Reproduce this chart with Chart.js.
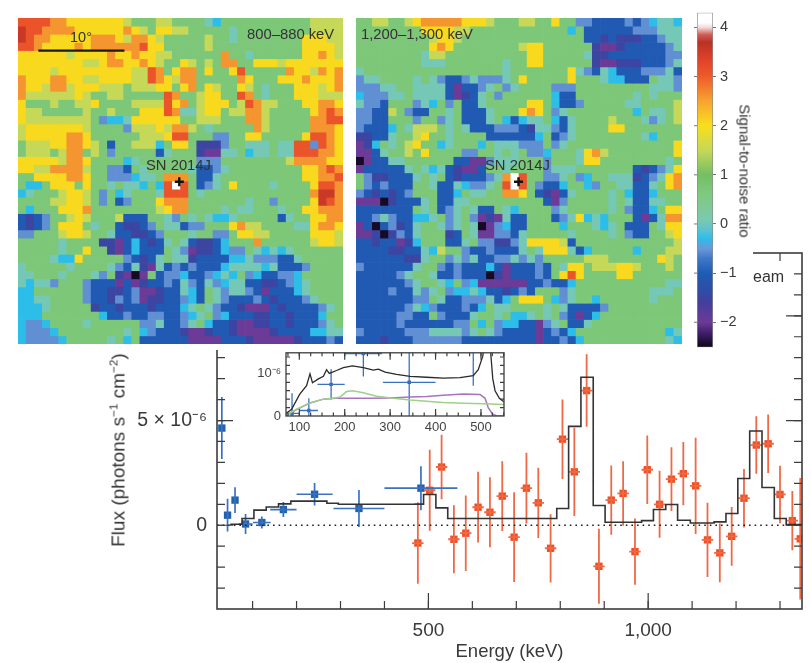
<!DOCTYPE html>
<html>
<head>
<meta charset="utf-8">
<title>SN 2014J</title>
<script src="https://cdn.jsdelivr.net/npm/chart.js@4"></script>
<style>
  html, body { margin: 0; padding: 0; background: #fff; }
  #page { position: relative; width: 811px; height: 663px; overflow: hidden; font-family: "Liberation Sans", Arial, sans-serif; color: #333; }
  canvas { position: absolute; }
  #mapLeft, #mapRight { filter: blur(0.5px); }
  #mask { position: absolute; left: 0; top: 0; width: 753px; height: 350px; background: #fff; z-index: 3; }
  .lbl { position: absolute; z-index: 6; white-space: nowrap; line-height: 1; }
  sup { font-size: 0.62em; line-height: 0; }
</style>
</head>
<body>
<div id="page">
  <canvas id="spectrum" width="811" height="663" style="left:0;top:0;z-index:1"></canvas>
  <canvas id="inset" width="270" height="105" style="left:250px;top:340px;z-index:2"></canvas>
  <div id="mask"></div>
  <canvas id="mapLeft" width="325" height="326" style="left:18px;top:18px;z-index:4"></canvas>
  <canvas id="mapRight" width="326" height="326" style="left:356px;top:18px;z-index:4"></canvas>
  <canvas id="colorbar" width="60" height="360" style="left:690px;top:0;z-index:4"></canvas>

  <div class="lbl" style="left:70px;top:30px;font-size:14.5px">10°</div>
  <div class="lbl" style="left:247px;top:27px;font-size:14.8px">800–880 keV</div>
  <div class="lbl" style="left:361px;top:27px;font-size:14.8px">1,200–1,300 keV</div>
  <div class="lbl" style="left:146px;top:158px;font-size:14.8px">SN 2014J</div>
  <div class="lbl" style="left:485px;top:158px;font-size:14.8px">SN 2014J</div>
  <div class="lbl" style="left:753px;top:269px;font-size:16px;z-index:2">eam</div>
  <div class="lbl" style="left:745px;top:171px;font-size:15px;transform:translate(-50%,-50%) rotate(90deg)">Signal-to-noise ratio</div>
  <div class="lbl" style="left:118px;top:450px;font-size:19px;transform:translate(-50%,-50%) rotate(-90deg)">Flux (photons s<sup>−1</sup> cm<sup>−2</sup>)</div>
</div>

<script>
// ---- data ----

// signal-to-noise maps, one letter per pixel, top row first
var mapLevels = { k: -2.45, p: -2, d: -1.5, b: -1.05, m: -0.55, c: -0.3, t: 0.05, g: 0.7, h: 1.5, y: 2.05, o: 2.6, r: 3.1, R: 3.55, W: 4.25 };

var map800Rows = [
  "rrrrooyyyy yyyhggghhg gggtcggggg gggggghhhh",
  "Rrrooooyyy yyyoyhgyyh hgggggtggg gggggghhhh",
  "Rrooyyyyyo ooyhooyhgg ggghggtggg gggggyyyhh",
  "rroyyyyoyo oooooryygg ggghgggggg gggggyyyyh",
  "yyyyyyhyyy yoyyoyyhhg gggggoggtg gggggyyoyh",
  "yyyyyyyyhh yooyyoyhgg yhghgooggy yyhyyyyyyy",
  "yyyyhyyyyy yyyyhhrogy oogyggyrgg gggoyyhoyo",
  "oyyyooyyhh yyyyhhroyh oogggggoyg ggyyyoyyyo",
  "oyyhoohyyy hhhghhhyyg yogyhggyhg tgggyyyhyo",
  "ohhhhhhyhg ghhgggggro gghyyggrog tgggyyyhhh",
  "yggghgghhy gggghhhhry oghyyyghro hhgggyyooy",
  "yhhggggghg ghgggyyyro tthyyghhoo hgggggyoro",
  "yhhhhhhhhg mcctyyyyyy gghhhgggoo hgggggoorr",
  "hyyyyyyyhg gggmhhhyho ohgtgggggo hgggggoooy",
  "hyyyyyooyg ggggghhhyr rgggmmggyy gggggyrroy",
  "ghhhyyooyh gbgghhhcgy ygdddmggtt tgttrrmroy",
  "ghhhghoogh gmgggggbtg ggdppttgct tgttrrrooy",
  "yyyyyhooyg gggctggggg ggmmmggggg ggghooooyy",
  "yyhhoooohg gmmbgtgggg gtbbmtgggg gggggyyoro",
  "ggyyyyooyg gmmmcttgoo ogbbtggggg gggggyyoor",
  "gccgyyygyg gtgttcgcrW rgbmtgyggg gtggggyrro",
  "ctggghyyhg mgctgggtrr rgtggggggg ggggggoRRo",
  "gggghhyyhg mgbmgggyoo ogggggggtg gmggggyRro",
  "gcgggyyyog ggggggghyo oggggtgttg ggtggyyooo",
  "bdbmgghyhg gghbbbggtm gtgtcctggg ggbtggyyoo",
  "bdbmgyyygt ggbddbmgtt bmmgggyohh ggggttyooy",
  "mmggghyyhg gtbbddbmgg gtggmmgyyh hgggggyyyh",
  "gggggtgggg ddpbcbdbtg tbddbcgggo gggggghyyh",
  "gggggtggyg gdpbcbbbgt mpddbcmmgt ctctgggggg",
  "ggggtccygg gggmbdbtgt tdbbbbcctm mmbbtggggg",
  "tgggggtggg gtmbtdptbm bmbbbctttt ctbbbmgggg",
  "ttgggtgggt mgdpkpgbmm cbbmctcgmc bbmmcggggg",
  "tcttmgggmb bbpbpdbbmb tmbtmcttbb ddbmctgggg",
  "ccggggggmb bddbmppdbb tcbgtmttmb pbbbctgggg",
  "ccttggggmb bdmbmpddbb mcbgtmbbbm bdbbbmtggg",
  "ccctgggggd bbdbbbdbbb ctgtmbbdpp pbdbbbbmtg",
  "cccggggggg cbbmbbmmbb mctgmcbbbd dbbdbbbcgg",
  "cmmcggggtg gggggmmtbb mtgcbbdppd dbbdbbbmtg",
  "cmmmcggggg gggtgcmbbb dppdbbdppp pdbbbbcctt",
  "cmmmmcgggg gtgcgbbbbb bppppbbbdp ppppdbbbmb"
];

var map1200Rows = [
  "gghhgghyoo oooyyyhggg hhggyggmmb bbbmbmcttc",
  "ggggggggyy yyhhgggggg ggggggcgbb bbbbmmmttt",
  "gggggggggh yyhggggggg ggggggggbb dbdddbbmtt",
  "gggggggggy oygggggggg hyyggggggd ppdbbbbbmt",
  "ggggggggth hggggggggg gyygggggtd dbbbbbbbmm",
  "ggggggggtt tgggggggtg gyyggggggd ppdddbbbmt",
  "tggggggggg ggggggggtg ggggggytmb tcbbbmmmtb",
  "mttggggtgt mbbmtmmmtg ygggggyggg tccbbbgttm",
  "mmmttggttt tbpbbmtgmt ggggmmmggg ggggggtttm",
  "cmmmttgttt tbpdbtgmgg ggggcbbggg ggggtgtggg",
  "tmmbgggmtc gmgbbtgggg gyygcbbmgg gggttggggh",
  "mmbbhgmbbg gtgbbbtggg yoygmtgggg ggggcgttgh",
  "mmbbgggmgg mtgbbbtgcb cttgcbtggg ghgggtmtgh",
  "mbbbcgthhh gtgtbbbmmm bdttmbtggg gyyggggggg",
  "ddbbtgghyg gtggggbbbb bbcgbmtggg gggggtcggg",
  "pdcgtghygg ctgggcgttt mmmgmtgggg gggggggggy",
  "ppbtgghgyg gggmmggtgt gmmcgggtyo hggggggggy",
  "kpbbttgggg ggbbppmttt gggmgggtyy ggggggggtg",
  "pbbbbbtgtc tbdppbggtg gggmtttggg ggggbdbmty",
  "gmddbbbtgt gbdbbbmtoW rggmmtgmcg gtttdbmtyo",
  "gmbmbbbggt bbtcmmtgrW rgmbbcggcm ggttbbtgyo",
  "mbdbdbmggg bbcgttggoo ygbdpbtggg gtgcbbcggg",
  "pppkdbbbtg bbttgggggg gggbpmgggg gtgtbbttgg",
  "bbbbbbbgtg bmtgtbbgtc ggggmtgggg gtgmbbcgyy",
  "bbmtmbbcct gmtgmpdptb bgggbmtyct cgggbpbtoo",
  "pbkbmdbtgg tmtgtkpmcb bggggcgggt ctgbbbgtyy",
  "ppdkdmbtgg gdbgtppmmb tgggggtggg gtgmbbgghy",
  "bbdbbpdcgg gbbtgmmddm tyyyyhbggg gggggggggh",
  "bbbbddbbtc hggmbbmbbb tgtyyytbcg ggggcggghh",
  "bbbbbbddtg gmtmtbbmmt mtmggggghh hggggggyhg",
  "mbbbbbbtgg mbmbbbcbpb bbmbgtyygh hhyyhggghg",
  "bbbbbmtggt bbmbbbkdpb bbmbgyrygg ggyygggggg",
  "bbbbbbmtgg tcgmcppppp pbbmbbcggg ggggggggtt",
  "bbbbmbbtmt gmcctcbbdb mbgggmtggg ggggggtttg",
  "bbbbbbbmmg tbbmmmtbcg yyygcmtggc ggggggtggg",
  "bbbbbbmtcm bbbmbcgttg gggtgtbbbb mggggggggg",
  "bbbbbmmbbg mbbbtggtgc ctgtgmbpbc gggggggggg",
  "bbbbbmbbbb bbmmgcgmcc bbpmtgbbtg gggggggggg",
  "mbbbbbmmmt tttmtgtmbb bbpbmbcggg ggggggggct",
  "bbbdbbbmmm mmmbbbbbbb bbpbbmbcgg ggggggggtc"
];

// source marker, in map pixels
var sourceLeft = [19.35, 20.1];
var sourceRight = [19.44, 20.1];

// colour bar
var barRange = [-2.51, 4.3];
var barTicks = [4, 3, 2, 1, 0, -1, -2];
var barStops = [
  [-2.51, "#0b0612"], [-2.25, "#3a1c63"], [-2, "#6c3a97"], [-1.6, "#443f9d"], [-1.3, "#2b50a8"], [-1, "#1f5cb5"],
  [-0.7, "#4078c8"], [-0.5, "#6b98d6"], [-0.3, "#2cbde9"], [-0.12, "#5cc3d0"], [0.1, "#7cc9ae"], [0.6, "#80c980"],
  [1, "#74bf63"], [1.5, "#c5d858"], [2, "#f8df1c"], [2.5, "#f7a331"], [3, "#ee5c2a"], [3.3, "#e4442a"],
  [3.7, "#b93224"], [3.85, "#cf5b55"], [4, "#f0dada"], [4.1, "#ffffff"], [4.3, "#ffffff"]
];

// SPI points, flux in 1e-6 photons/s/cm2
var blueEnergy = [30, 43, 60, 84, 121, 170, 241, 342, 483];
var blueHalfWidth = [0, 0, 0, 16, 20, 30, 41, 58, 83];
var blueFlux = [4.64, 0.48, 1.2, 0.06, 0.13, 0.75, 1.48, 0.8, 1.77];
var blueError = [1.48, 0.78, 0.61, 0.48, 0.29, 0.36, 0.54, 0.88, 1.05];

var redEnergy = [476, 503, 530, 558, 585, 613, 640, 668, 695, 723, 750, 778, 805, 832, 860, 888, 916, 943, 970, 998, 1026, 1053, 1080, 1108, 1135, 1163, 1190, 1218, 1246, 1273, 1300, 1328, 1346];
var redFlux = [-0.85, 1.67, 2.78, -0.67, -0.38, 0.86, 0.62, 1.39, -0.57, 1.77, 1.07, -1.1, 4.11, 2.55, 6.43, -1.96, 1.2, 1.52, -1.26, 2.65, 1, 2.2, 2.46, 1.88, -0.7, -1.32, -0.53, 1.29, 3.83, 3.89, 1.47, 0.22, -0.65];
var redError = [1.95, 1.93, 1.54, 1.62, 1.8, 1.69, 1.67, 1.67, 2.14, 1.69, 1.68, 1.63, 1.9, 2.11, 1.73, 1.79, 1.65, 1.54, 1.58, 1.63, 1.6, 1.52, 1.51, 2.3, 1.77, 1.4, 1.4, 1.4, 1.37, 1.4, 1.37, 1.42, 2.9];
var redHalfWidth = 13;

// model histogram, each level holds until the next edge
var modelEdges = [49, 76, 103, 131, 159, 187, 269, 295, 470, 489, 517, 544, 792, 819, 847, 875, 902, 985, 1012, 1040, 1067, 1096, 1150, 1177, 1204, 1231, 1259, 1287, 1314, 1350];
var modelFlux = [0.05, 0.32, 0.72, 0.87, 1.02, 1.15, 1.05, 1, 1.01, 1.47, 0.83, 0.32, 0.8, 4.72, 7.07, 0.94, 0.14, 0.22, 0.75, 0.99, 0.24, 0.11, 0.16, 0.56, 2.23, 4.5, 1.8, 0.32, 0.03, 0.03];

// inset curves
var insetTotalE = [70.6, 83, 101, 116, 123.5, 129, 142, 153, 160, 166, 182, 197, 217, 241, 263, 274, 289, 314, 344, 380, 417, 454, 483, 494, 504, 511, 518.5, 522, 526, 531, 540.5, 551];
var insetTotalF = [0.06, 0.16, 0.52, 0.72, 1, 0.79, 0.88, 0.94, 1.1, 1.01, 1.08, 1.15, 1.19, 1.15, 1.09, 1.11, 1.04, 0.99, 0.94, 0.92, 0.9, 0.91, 0.96, 1.1, 1.42, 2, 2, 1.42, 0.88, 0.6, 0.42, 0.33];
var insetGreenE = [70.6, 94, 123.5, 153, 178.6, 189.6, 204, 217.5, 241, 270, 307, 344, 380, 417, 461, 505, 551];
var insetGreenF = [0.02, 0.165, 0.31, 0.4, 0.43, 0.45, 0.58, 0.6, 0.55, 0.47, 0.42, 0.38, 0.35, 0.32, 0.3, 0.29, 0.27];
var insetPurpleE = [70.6, 94, 123.5, 153, 178.6, 211.6, 255.6, 300, 344, 380.5, 417, 461, 498, 509, 516, 526, 535, 551];
var insetPurpleF = [0.01, 0.15, 0.31, 0.4, 0.42, 0.42, 0.42, 0.43, 0.45, 0.46, 0.49, 0.52, 0.51, 0.42, 0.2, 0.04, 0, 0];

// ---- helpers ----

Chart.defaults.font.family = '"Liberation Sans", Arial, sans-serif';
Chart.defaults.color = "#333";
Chart.defaults.animation = false;
Chart.defaults.responsive = false;
Chart.defaults.layout.autoPadding = false;
Chart.defaults.plugins.legend.display = false;
Chart.defaults.plugins.tooltip.enabled = false;

var axisColor = "#3d3d3d";

function hexRgb(h) {
  return [parseInt(h.substr(1, 2), 16), parseInt(h.substr(3, 2), 16), parseInt(h.substr(5, 2), 16)];
}

function colorFor(v) {
  for (var i = 1; i < barStops.length; i++) {
    if (v <= barStops[i][0]) {
      var a = barStops[i - 1], b = barStops[i];
      var t = Math.max(0, (v - a[0]) / (b[0] - a[0]));
      var ca = hexRgb(a[1]), cb = hexRgb(b[1]);
      return "rgb(" + ca.map(function (c, k) { return Math.round(c + (cb[k] - c) * t); }).join(",") + ")";
    }
  }
  return "#fff";
}

function pairs(xs, ys) {
  return xs.map(function (x, i) { return { x: x, y: ys[i] }; });
}

// error bars as one broken line
function errorSegments(xs, ys, xHalf, yErr) {
  var out = [];
  xs.forEach(function (x, i) {
    var h = Array.isArray(xHalf) ? xHalf[i] : xHalf;
    out.push({ x: x, y: ys[i] - yErr[i] }, { x: x, y: ys[i] + yErr[i] }, { x: x, y: NaN });
    if (h > 0) out.push({ x: x - h, y: ys[i] }, { x: x + h, y: ys[i] }, { x: x, y: NaN });
  });
  return out;
}

function steps(from, to, by) {
  var out = [];
  for (var v = from; v <= to + 1e-9; v += by) out.push(Math.round(v * 1000) / 1000);
  return out;
}

// box and inward tick marks, taken from the chart's scales
var frameTicks = {
  id: "frameTicks",
  afterDraw: function (chart, args, opts) {
    var c = chart.ctx, a = chart.chartArea;
    c.save();
    c.strokeStyle = axisColor;
    if (opts.box) {
      c.lineWidth = opts.box;
      c.strokeRect(a.left, a.top, a.right - a.left, a.bottom - a.top);
    }
    (opts.marks || []).forEach(function (m) {
      c.lineWidth = m.width || 1.2;
      c.beginPath();
      m.values.forEach(function (v) {
        if (m.axis === "x") {
          var px = chart.scales.x.getPixelForValue(v);
          c.moveTo(px, a.bottom); c.lineTo(px, a.bottom - m.len);
          c.moveTo(px, a.top); c.lineTo(px, a.top + m.len);
        } else {
          var py = chart.scales.y.getPixelForValue(v);
          c.moveTo(a.left, py); c.lineTo(a.left + m.len, py);
          c.moveTo(a.right, py); c.lineTo(a.right - m.len, py);
        }
      });
      c.stroke();
    });
    c.restore();
  }
};

// 10 degree scale bar, sits on the left map
var scaleBar = {
  id: "scaleBar",
  afterDraw: function (chart) {
    var c = chart.ctx, xs = chart.scales.x, ys = chart.scales.y;
    c.save();
    c.strokeStyle = "#1a1a1a";
    c.lineWidth = 2.2;
    c.beginPath();
    c.moveTo(xs.getPixelForValue(2), ys.getPixelForValue(4));
    c.lineTo(xs.getPixelForValue(12.6), ys.getPixelForValue(4));
    c.stroke();
    c.restore();
  }
};

// ---- maps ----

function drawMap(id, rows, source, extra) {
  var cols = [];
  for (var i = 0; i < 40; i++) cols.push(i);
  var datasets = rows.map(function (row) {
    var cells = row.replace(/ /g, "");
    return {
      data: cols.map(function () { return 1; }),
      backgroundColor: cols.map(function (i) { return colorFor(mapLevels[cells.charAt(i) || "g"]); }),
      barPercentage: 1,
      categoryPercentage: 1,
      borderWidth: 0,
      order: 2
    };
  });
  datasets.push({
    type: "line",
    parsing: false,
    data: [{ x: source[0], y: source[1] }],
    showLine: false,
    pointStyle: "cross",
    pointRadius: 4.5,
    pointBorderWidth: 2.4,
    pointBorderColor: "#111",
    order: 1
  });
  return new Chart(document.getElementById(id), {
    type: "bar",
    data: { labels: cols, datasets: datasets },
    options: {
      layout: { padding: 0 },
      scales: {
        x: { display: false, stacked: true },
        y: { display: false, stacked: true, reverse: true, min: 0, max: 40 }
      }
    },
    plugins: extra
  });
}

drawMap("mapLeft", map800Rows, sourceLeft, [scaleBar]);
drawMap("mapRight", map1200Rows, sourceRight, []);

// ---- colour bar ----

new Chart(document.getElementById("colorbar"), {
  type: "bar",
  data: {
    labels: ["S/N"],
    datasets: [{
      data: [barRange],
      barPercentage: 1,
      categoryPercentage: 1,
      borderWidth: 1,
      borderColor: "#8c8c8c",
      borderSkipped: false,
      backgroundColor: function (ctx) {
        var y = ctx.chart.scales.y;
        if (!y || !y.height) return "#ccc";
        var p0 = y.getPixelForValue(barRange[1]), p1 = y.getPixelForValue(barRange[0]);
        var g = ctx.chart.ctx.createLinearGradient(0, p0, 0, p1);
        barStops.forEach(function (s) {
          g.addColorStop((barRange[1] - s[0]) / (barRange[1] - barRange[0]), s[1]);
        });
        return g;
      }
    }]
  },
  options: {
    layout: { padding: { left: 7, top: 4, bottom: 10, right: 0 } },
    scales: {
      x: { display: false },
      y: {
        position: "right",
        min: barRange[0],
        max: barRange[1],
        afterFit: function (s) { s.width = 37; },
        afterBuildTicks: function (s) { s.ticks = barTicks.map(function (v) { return { value: v }; }); },
        border: { display: false },
        grid: { drawOnChartArea: false, tickLength: 3, tickColor: "#777" },
        ticks: {
          padding: 4,
          autoSkip: false,
          color: "#3a3a3a",
          font: { size: 14.5 },
          callback: function (v) { return v < 0 ? "−" + Math.abs(v) : String(v); }
        }
      }
    }
  },
  plugins: [{
    id: "leftTicks",
    afterDraw: function (chart) {
      var c = chart.ctx, a = chart.chartArea;
      c.save();
      c.strokeStyle = "#777";
      c.beginPath();
      barTicks.forEach(function (v) {
        var py = chart.scales.y.getPixelForValue(v);
        c.moveTo(a.left, py); c.lineTo(a.left - 3, py);
      });
      c.stroke();
      c.restore();
    }
  }]
});

// ---- main spectrum ----

new Chart(document.getElementById("spectrum"), {
  type: "line",
  data: {
    datasets: [
      { data: pairs([19, 1350], [0, 0]), borderColor: "#222", borderWidth: 1.6, borderDash: [1.6, 4], pointRadius: 0 },
      { data: pairs(modelEdges, modelFlux), stepped: "before", borderColor: "#333", borderWidth: 1.6, pointRadius: 0 },
      { data: errorSegments(blueEnergy, blueFlux, blueHalfWidth, blueError), borderColor: "#3a72bf", borderWidth: 1.7, pointRadius: 0 },
      { data: errorSegments(redEnergy, redFlux, redHalfWidth, redError), borderColor: "#ee6a47", borderWidth: 1.8, pointRadius: 0 },
      { data: pairs(blueEnergy, blueFlux), showLine: false, pointStyle: "rect", pointRadius: 5.2, pointBackgroundColor: "#2260ae", pointBorderWidth: 0 },
      { data: pairs(redEnergy, redFlux), showLine: false, pointStyle: "rect", pointRadius: 5.2, pointBackgroundColor: "#f04e23", pointBorderWidth: 0 }
    ]
  },
  options: {
    layout: { padding: { top: 253, right: 9, left: 0, bottom: 0 } },
    scales: {
      x: {
        type: "linear",
        min: 19,
        max: 1350,
        afterFit: function (s) { s.height = 54; },
        afterBuildTicks: function (s) { s.ticks = [{ value: 500 }, { value: 1000 }]; },
        grid: { display: false, drawTicks: false },
        border: { display: false },
        ticks: {
          autoSkip: false,
          maxRotation: 0,
          padding: 10,
          color: "#3a3a3a",
          font: { size: 19 },
          callback: function (v) { return v === 1000 ? "1,000" : String(v); }
        },
        title: { display: true, text: "Energy (keV)", color: "#3a3a3a", font: { size: 18.5 }, padding: { top: 2, bottom: 0 } }
      },
      y: {
        min: -4,
        max: 13,
        afterFit: function (s) { s.width = 217; },
        afterBuildTicks: function (s) { s.ticks = [{ value: 0 }, { value: 5 }]; },
        grid: { display: false, drawTicks: false },
        border: { display: false },
        ticks: {
          autoSkip: false,
          padding: 10,
          color: "#3a3a3a",
          font: { size: 19.5 },
          callback: function (v) { return v === 5 ? "5 × 10⁻⁶" : "0"; }
        }
      }
    },
    plugins: {
      frameTicks: {
        box: 1.6,
        marks: [
          { axis: "x", values: steps(100, 1300, 100), len: 8 },
          { axis: "x", values: [500, 1000], len: 16 },
          { axis: "y", values: steps(-3, 12, 1), len: 8 },
          { axis: "y", values: [0, 5, 10], len: 16 }
        ]
      }
    }
  },
  plugins: [frameTicks]
});

// ---- inset ----

new Chart(document.getElementById("inset"), {
  type: "line",
  data: {
    datasets: [
      { data: pairs(insetGreenE, insetGreenF), borderColor: "#9fd08a", borderWidth: 1.5, pointRadius: 0 },
      { data: pairs(insetPurpleE, insetPurpleF), borderColor: "#a873c0", borderWidth: 1.5, pointRadius: 0 },
      { data: pairs(insetTotalE, insetTotalF), borderColor: "#2a2a2a", borderWidth: 1.3, pointRadius: 0 },
      { data: errorSegments(blueEnergy, blueFlux, blueHalfWidth, blueError), borderColor: "#3a72bf", borderWidth: 1.3, pointRadius: 0 },
      { data: pairs(blueEnergy, blueFlux), showLine: false, pointStyle: "rect", pointRadius: 2.4, pointBackgroundColor: "#2260ae", pointBorderWidth: 0 }
    ]
  },
  options: {
    layout: { padding: { top: 6.5, right: 16, left: 0, bottom: 0 } },
    scales: {
      x: {
        type: "linear",
        min: 70.7,
        max: 550.7,
        afterFit: function (s) { s.height = 29; },
        afterBuildTicks: function (s) { s.ticks = steps(100, 500, 100).map(function (v) { return { value: v }; }); },
        grid: { display: false, drawTicks: false },
        border: { display: false },
        ticks: { autoSkip: false, maxRotation: 0, padding: 4, color: "#444", font: { size: 13 } }
      },
      y: {
        min: 0,
        max: 1.5,
        afterFit: function (s) { s.width = 36; },
        afterBuildTicks: function (s) { s.ticks = [{ value: 0 }, { value: 1 }]; },
        grid: { display: false, drawTicks: false },
        border: { display: false },
        ticks: {
          autoSkip: false,
          padding: 5,
          color: "#444",
          font: { size: 13 },
          callback: function (v) { return v === 1 ? "10⁻⁶" : "0"; }
        }
      }
    },
    plugins: {
      frameTicks: {
        box: 1.3,
        marks: [
          { axis: "x", values: steps(75, 550, 25), len: 3.5 },
          { axis: "x", values: steps(100, 500, 100), len: 7 },
          { axis: "y", values: steps(0.2, 1.4, 0.2), len: 4 }
        ]
      }
    }
  },
  plugins: [frameTicks]
});
</script>
</body>
</html>
